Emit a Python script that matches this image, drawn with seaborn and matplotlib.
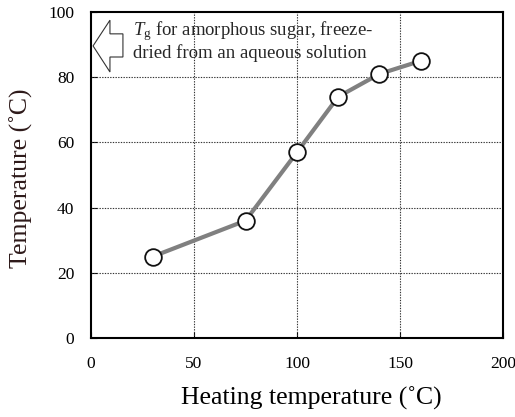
import matplotlib
matplotlib.use("Agg")
import matplotlib.pyplot as plt
from matplotlib.patches import Polygon
import seaborn as sns
import pandas as pd

# Glass transition temperature versus heating temperature
heating_temp = [30, 75, 100, 120, 140, 160]
tg_values = [25, 36, 57, 74, 81, 85]
x_ticks = [0, 50, 100, 150, 200]
y_ticks = [0, 20, 40, 60, 80, 100]

sns.set_theme(style="white")
plt.rcParams["font.family"] = ["Liberation Serif", "DejaVu Serif"]
plt.rcParams["mathtext.fontset"] = "custom"
plt.rcParams["mathtext.rm"] = "Liberation Serif"
plt.rcParams["mathtext.it"] = "Liberation Serif:italic"

df = pd.DataFrame({"heating": heating_temp, "tg": tg_values})

fig = plt.figure(figsize=(5.15, 4.17), dpi=100)
ax = fig.add_axes([0.1767, 0.1894, 0.8000, 0.7818])

sns.lineplot(data=df, x="heating", y="tg", ax=ax, color="#808080",
             linewidth=3, marker="o", markersize=12,
             markerfacecolor="white", markeredgecolor="#111111",
             markeredgewidth=1.3, zorder=3)

ax.set_xlim(0, 200)
ax.set_ylim(0, 100)
ax.set_xticks(x_ticks)
ax.set_yticks(y_ticks)
ax.tick_params(axis="both", direction="in", length=4, width=0.8,
               colors="black", labelsize=12.5, bottom=True, left=True)
ax.tick_params(axis="x", pad=13)
ax.tick_params(axis="y", pad=12)

for v in x_ticks[1:-1]:
    ax.axvline(v, color="#333333", linestyle=(0, (1.2, 1.2)), linewidth=0.8, zorder=1)
for v in y_ticks[1:-1]:
    ax.axhline(v, color="#333333", linestyle=(0, (1.2, 1.2)), linewidth=0.8, zorder=1)

for s in ax.spines.values():
    s.set_color("black")
    s.set_linewidth(1.5)

ax.set_xlabel("Heating temperature (˚C)", fontsize=18.5, color="black")
ax.set_ylabel("Temperature (˚C)", fontsize=18.5, color="#2e1a1a")
ax.xaxis.label.set_va("center")
ax.yaxis.label.set_va("center")
ax.xaxis.set_label_coords(0.534, -0.184)
ax.yaxis.set_label_coords(-0.168, 0.489)

# Hollow left-pointing arrow for the Tg reference level
arrow = Polygon([(1, 89.6), (9.2, 97.5), (9.2, 93.3), (15.5, 93.3),
                 (15.5, 86.2), (9.2, 86.2), (9.2, 81.6)],
                closed=True, facecolor="white", edgecolor="#333333",
                linewidth=0.8, zorder=4)
ax.add_patch(arrow)

ax.text(20.5, 94.3, r"$T_\mathrm{g}$ for amorphous sugar, freeze-",
        fontsize=13.5, va="center", ha="left", zorder=5)
ax.text(20.5, 87.3, "dried from an aqueous solution",
        fontsize=13.5, va="center", ha="left", zorder=5)

fig.savefig("out.png", dpi=100)
